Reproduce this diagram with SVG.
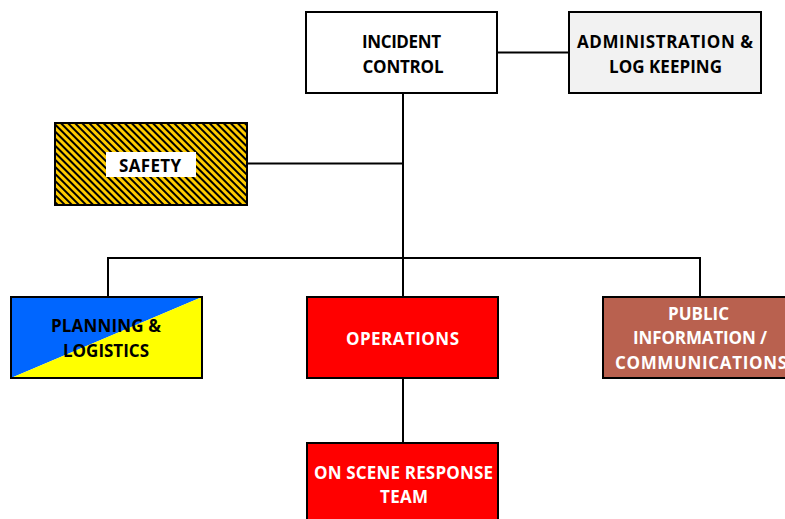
<svg xmlns="http://www.w3.org/2000/svg" width="785" height="519" viewBox="0 0 785 519">
  <defs>
    <pattern id="hazard" patternUnits="userSpaceOnUse" width="5" height="5" patternTransform="rotate(-45)">
      <rect width="5" height="5" fill="#ffcc00"/>
      <rect width="2" height="5" fill="#000"/>
    </pattern>
    <style>
      .box { stroke: #000; stroke-width: 2; }
      .lbl { font-family: "Open Sans", Lato, "Liberation Sans", sans-serif; font-weight: bold; font-size: 17px; text-anchor: middle; }
      .dark { fill: #000; }
      .light { fill: #fff; }
      .wire { stroke: #000; stroke-width: 2; fill: none; }
    </style>
  </defs>

  <g id="connectors">
    <line class="wire" x1="497" y1="52.5" x2="569" y2="52.5"/>
    <line class="wire" x1="403" y1="93" x2="403" y2="296"/>
    <line class="wire" x1="247" y1="163.5" x2="403" y2="163.5"/>
    <line class="wire" x1="108" y1="258" x2="700" y2="258"/>
    <line class="wire" x1="108" y1="257" x2="108" y2="296"/>
    <line class="wire" x1="700" y1="257" x2="700" y2="296"/>
    <line class="wire" x1="403" y1="378" x2="403" y2="443"/>
  </g>

  <g id="incident-control">
    <rect class="box" x="306" y="12" width="191" height="81" fill="#fff"/>
    <text class="lbl dark" x="401.5" y="48" textLength="79">INCIDENT</text>
    <text class="lbl dark" x="403" y="72.5" textLength="81">CONTROL</text>
  </g>

  <g id="administration">
    <rect class="box" x="569" y="12" width="192" height="81" fill="#f2f2f2"/>
    <text class="lbl dark" x="665" y="48" textLength="176">ADMINISTRATION &amp;</text>
    <text class="lbl dark" x="665.5" y="72.5" textLength="113">LOG KEEPING</text>
  </g>

  <g id="safety">
    <rect class="box" x="55" y="123" width="192" height="82" fill="url(#hazard)"/>
    <rect x="106" y="152" width="90" height="25" fill="#fff"/>
    <text class="lbl dark" x="150" y="171.5" textLength="62">SAFETY</text>
  </g>

  <g id="planning-logistics">
    <polygon points="11,297 202,297 11,378" fill="#0066ff"/>
    <polygon points="202,297 202,378 11,378" fill="#ffff00"/>
    <rect class="box" x="11" y="297" width="191" height="81" fill="none"/>
    <text class="lbl dark" x="106" y="332" textLength="110">PLANNING &amp;</text>
    <text class="lbl dark" x="106" y="356.5" textLength="86">LOGISTICS</text>
  </g>

  <g id="operations">
    <rect class="box" x="307" y="297" width="191" height="81" fill="#ff0000"/>
    <text class="lbl light" x="402.5" y="344.5" textLength="113">OPERATIONS</text>
  </g>

  <g id="public-information">
    <rect class="box" x="603" y="297" width="192" height="81" fill="#b9614f"/>
    <text class="lbl light" x="698.5" y="320" textLength="61">PUBLIC</text>
    <text class="lbl light" x="700" y="344" textLength="134">INFORMATION /</text>
    <text class="lbl light" x="615" y="368.5" textLength="172" style="text-anchor:start">COMMUNICATIONS</text>
  </g>

  <g id="on-scene-response">
    <rect class="box" x="307" y="443" width="191" height="90" fill="#ff0000"/>
    <text class="lbl light" x="403.5" y="479" textLength="179">ON SCENE RESPONSE</text>
    <text class="lbl light" x="404" y="502.5" textLength="48">TEAM</text>
  </g>
</svg>
